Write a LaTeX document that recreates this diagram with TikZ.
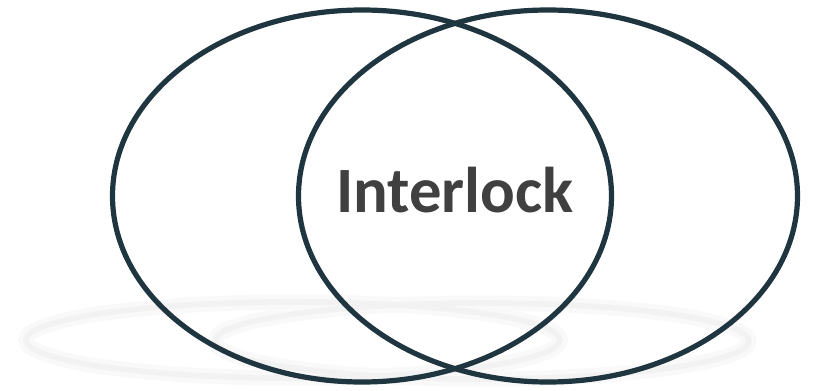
\documentclass[tikz,border=0pt]{standalone}
\usepackage{fontspec}
\setmainfont{Carlito}
\usetikzlibrary{shapes,positioning}
\definecolor{ringcol}{HTML}{1F3540}
\definecolor{textcol}{HTML}{404040}

\begin{document}
\begin{tikzpicture}[
  ring/.style={ellipse, draw=ringcol, line width=3.7pt, minimum width=12.475cm, minimum height=9.3cm, inner sep=0pt},
  glow/.style={ellipse, draw=gray!5, line width=11pt, minimum width=13.35cm, minimum height=1.9cm, inner sep=0pt},
  glowcore/.style={ellipse, draw=gray!10, line width=4pt, minimum width=13.35cm, minimum height=1.9cm, inner sep=0pt}
]
\useasboundingbox (0,0) rectangle (20.4,-9.75);

% Reflections
\node[glow] (shadowL) at (7.325,-8.5) {};
\node[glow] (shadowR) at (12.05,-8.525) {};
\node[glowcore] (shadowLc) at (7.325,-8.5) {};
\node[glowcore] (shadowRc) at (12.05,-8.525) {};

% Rings
\node[ring] (ringL) at (9.05,-4.9) {};
\node[ring] (ringR) at (13.7,-4.9) {};

% Label
\node[text=textcol, font=\fontsize{46}{54}\selectfont\bfseries] (label) at (11.375,-4.75) {Interlock};
\end{tikzpicture}
\end{document}
